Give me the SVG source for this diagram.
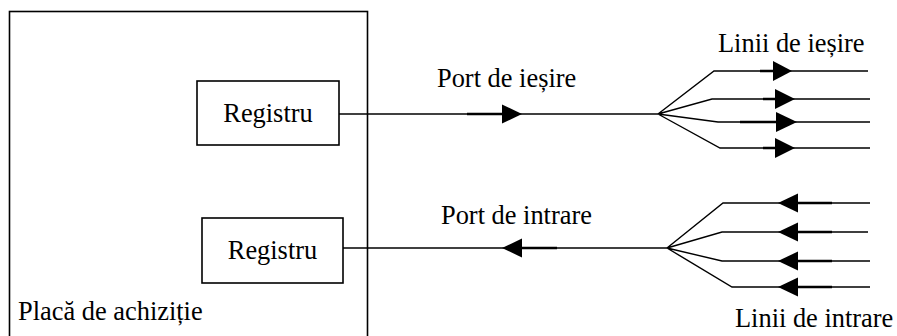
<svg xmlns="http://www.w3.org/2000/svg" width="897" height="336" viewBox="0 0 897 336">
<style>
.t{font-family:"Liberation Serif","Times New Roman",serif;font-size:26.4px;fill:#000}
.b{fill:#fff;stroke:#000;stroke-width:1.6}
.l{fill:none;stroke:#000;stroke-width:1.4}
.k{fill:none;stroke:#000;stroke-width:2.7}
.a{fill:#000;stroke:none}
</style>
<rect width="897" height="336" fill="#fff"/>
<g id="placa">
<rect class="b" x="9.5" y="11.5" width="358" height="340"/>
<text class="t" x="18" y="320">Placă de achiziție</text>
</g>
<g id="registru-iesire">
<rect class="b" x="197" y="81" width="142" height="64"/>
<text class="t" x="268" y="122" text-anchor="middle">Registru</text>
</g>
<g id="registru-intrare">
<rect class="b" x="202" y="218" width="141" height="65"/>
<text class="t" x="272.5" y="259" text-anchor="middle">Registru</text>
</g>
<g id="labels">
<text class="t" x="437" y="87">Port de ieșire</text>
<text class="t" x="441" y="224">Port de intrare</text>
<text class="t" x="718" y="52">Linii de ieșire</text>
<text class="t" x="735" y="327">Linii de intrare</text>
</g>
<g id="connectors">
<path class="l" d="M339 114H658"/>
<path class="k" d="M467 114H505"/>
<path class="a" d="M502 104.5L522 114L502 123.5Z"/>
<path class="l" d="M658 114L714 71H868M658 114L712 99H870M658 114L718 122H870M658 114L720 148H870"/>
<path class="k" d="M760 71H775M763 99H777M740 122H777M763 148H777"/>
<path class="a" d="M773 61L792 71L773 81Z"/>
<path class="a" d="M775 89L795 99L775 109Z"/>
<path class="a" d="M776 112L797 122L776 132Z"/>
<path class="a" d="M775 138L795 148L775 158Z"/>
<path class="l" d="M343 248H667"/>
<path class="k" d="M520 248H557"/>
<path class="a" d="M522 238.5L502 248L522 257.5Z"/>
<path class="l" d="M667 248L723 203H870M667 248L722 232H868M667 248L722 261H870M667 248L732 287H870"/>
<path class="k" d="M796 203H832M796 232H832M796 261H832M796 287H832"/>
<path class="a" d="M798 193.5L778 203L798 212.5Z"/>
<path class="a" d="M798 222.5L778 232L798 241.5Z"/>
<path class="a" d="M798 251.5L778 261L798 270.5Z"/>
<path class="a" d="M798 277.5L778 287L798 296.5Z"/>
</g>
</svg>
